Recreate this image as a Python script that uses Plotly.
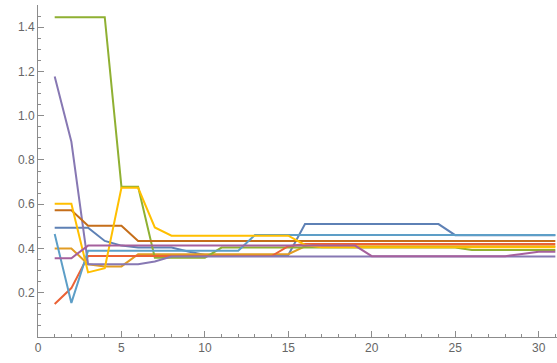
import plotly.graph_objects as go

x_vals = list(range(1, 32))

s_blue = [0.494, 0.494, 0.494, 0.434, 0.413, 0.404, 0.404, 0.404, 0.386, 0.371,
          0.371, 0.371, 0.371, 0.371, 0.371, 0.510, 0.510, 0.510, 0.510, 0.510,
          0.510, 0.510, 0.510, 0.510, 0.460, 0.460, 0.460, 0.460, 0.460, 0.460, 0.460]
s_orange = [0.400, 0.400, 0.329, 0.319, 0.319, 0.374, 0.374, 0.374, 0.374, 0.374,
            0.374, 0.374, 0.374, 0.374, 0.374, 0.410, 0.410, 0.410, 0.410, 0.410,
            0.410, 0.410, 0.410, 0.410, 0.410, 0.410, 0.410, 0.410, 0.410, 0.410, 0.410]
s_green = [1.445, 1.445, 1.445, 1.445, 0.679, 0.679, 0.358, 0.358, 0.358, 0.358,
           0.404, 0.404, 0.404, 0.404, 0.404, 0.404, 0.404, 0.404, 0.404, 0.404,
           0.404, 0.404, 0.404, 0.404, 0.404, 0.393, 0.393, 0.393, 0.393, 0.393, 0.393]
s_red = [0.149, 0.221, 0.366, 0.366, 0.366, 0.366, 0.366, 0.366, 0.366, 0.366,
         0.366, 0.366, 0.366, 0.366, 0.410, 0.420, 0.420, 0.420, 0.420, 0.420,
         0.420, 0.420, 0.420, 0.420, 0.420, 0.420, 0.420, 0.420, 0.420, 0.420, 0.420]
s_purple = [1.177, 0.882, 0.329, 0.329, 0.329, 0.329, 0.341, 0.364, 0.364, 0.364,
            0.364, 0.364, 0.364, 0.364, 0.364, 0.364, 0.364, 0.364, 0.364, 0.364,
            0.364, 0.364, 0.364, 0.364, 0.364, 0.364, 0.364, 0.364, 0.364, 0.364, 0.364]
s_brown = [0.573, 0.573, 0.503, 0.503, 0.503, 0.434, 0.434, 0.434, 0.434, 0.434,
           0.434, 0.434, 0.434, 0.434, 0.434, 0.434, 0.434, 0.434, 0.434, 0.434,
           0.434, 0.434, 0.434, 0.434, 0.434, 0.434, 0.434, 0.434, 0.434, 0.434, 0.434]
s_lightblue = [0.465, 0.154, 0.390, 0.390, 0.390, 0.390, 0.390, 0.390, 0.390, 0.390,
               0.390, 0.390, 0.461, 0.461, 0.461, 0.461, 0.461, 0.461, 0.461, 0.461,
               0.461, 0.461, 0.461, 0.461, 0.461, 0.461, 0.461, 0.461, 0.461, 0.461, 0.461]
s_yellow = [0.602, 0.602, 0.292, 0.311, 0.674, 0.674, 0.495, 0.458, 0.458, 0.458,
            0.458, 0.458, 0.458, 0.458, 0.458, 0.416, 0.405, 0.405, 0.405, 0.405,
            0.405, 0.405, 0.405, 0.405, 0.405, 0.405, 0.405, 0.405, 0.405, 0.405, 0.405]
s_magenta = [0.356, 0.356, 0.413, 0.413, 0.413, 0.413, 0.413, 0.413, 0.413, 0.413,
             0.413, 0.413, 0.413, 0.413, 0.413, 0.413, 0.413, 0.413, 0.413, 0.365,
             0.365, 0.365, 0.365, 0.365, 0.365, 0.365, 0.365, 0.365, 0.375, 0.385, 0.385]

series = [s_blue, s_orange, s_green, s_red, s_purple, s_brown, s_lightblue, s_yellow, s_magenta]
colors = ["#5E81B5", "#E19C24", "#8FB032", "#EB6235", "#8778B3",
          "#C56E1A", "#5D9EC7", "#FFBF00", "#A5609D"]

x_ticks = [0, 5, 10, 15, 20, 25, 30]
y_ticks = [0.2, 0.4, 0.6, 0.8, 1.0, 1.2, 1.4]

fig = go.Figure()
for ys, c in zip(series, colors):
    fig.add_trace(go.Scatter(x=x_vals, y=ys, mode="lines",
                             line=dict(color=c, width=2), hoverinfo="skip"))

axis_color = "#8c8c8c"
label_font = dict(family="Liberation Sans, Arial, sans-serif", size=12, color="#666666")

fig.update_layout(
    width=557, height=363,
    margin=dict(l=38, r=0, t=5, b=26),
    paper_bgcolor="white", plot_bgcolor="white",
    showlegend=False,
    xaxis=dict(range=[0, 31.1], tickvals=x_ticks, ticks="inside", ticklen=6,
               tickcolor=axis_color, showline=True, linecolor=axis_color, linewidth=1,
               showgrid=False, zeroline=False, tickfont=label_font,
               minor=dict(dtick=1, tick0=0, ticks="inside", ticklen=3, tickcolor=axis_color)),
    yaxis=dict(range=[0, 1.5], tickvals=y_ticks, tickformat=".1f", ticks="inside", ticklen=6,
               tickcolor=axis_color, showline=True, linecolor=axis_color, linewidth=1,
               showgrid=False, zeroline=False, tickfont=label_font,
               minor=dict(dtick=0.05, tick0=0, ticks="inside", ticklen=3, tickcolor=axis_color)),
)

fig.write_html("out.html", config={"displayModeBar": False},
               post_script="document.body.style.margin='0';document.body.style.padding='0';")
